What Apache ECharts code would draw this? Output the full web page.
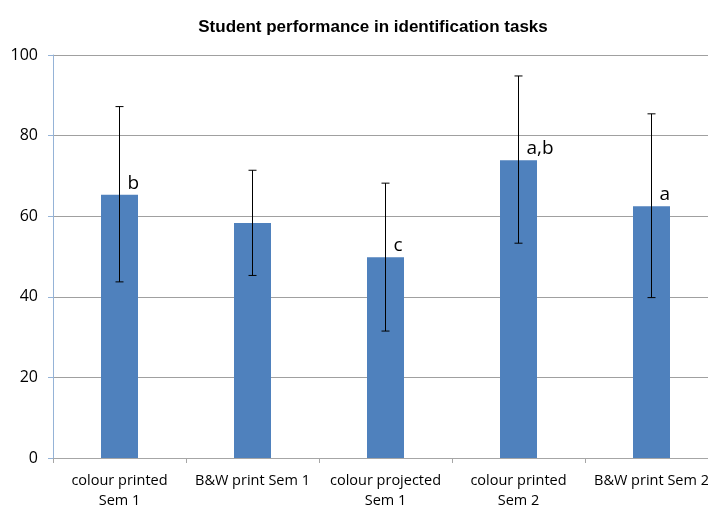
<!DOCTYPE html>
<html>
<head>
<meta charset="utf-8">
<script src="https://cdn.jsdelivr.net/npm/echarts@6/dist/echarts.min.js"></script>
<style>
  html, body { margin: 0; padding: 0; background: #fff; }
  #main { width: 708px; height: 507px; }
</style>
</head>
<body>
<div id="main"></div>
<script>
// data
var categories = ['colour printed\nSem 1', 'B&W print Sem 1', 'colour projected\nSem 1', 'colour printed\nSem 2', 'B&W print Sem 2'];
var means = [65.3, 58.3, 49.8, 73.9, 62.5];
var errLow = [43.7, 45.3, 31.5, 53.3, 39.8];
var errHigh = [87.2, 71.4, 68.2, 94.8, 85.4];
var letters = ['b', '', 'c', 'a,b', 'a'];
var yTicks = [0, 20, 40, 60, 80, 100];

var myChart = echarts.init(document.getElementById('main'));

var errData = means.map(function (m, i) { return [i, errLow[i], errHigh[i], m]; });

myChart.setOption({
    animation: false,
    title: {
        text: 'Student performance in identification tasks',
        left: 368,
        textAlign: 'center',
        top: 14,
        textStyle: { fontFamily: 'Liberation Sans', fontSize: 17, fontWeight: 'bold', color: '#000' }
    },
    grid: { left: 53, top: 55, width: 665, height: 403, outerBoundsMode: 'none', containLabel: false },
    xAxis: {
        type: 'category',
        data: categories,
        axisLine: { lineStyle: { color: '#a6a6a6' } },
        axisTick: { show: true, length: 5, lineStyle: { color: '#a6a6a6' } },
        axisLabel: { fontFamily: 'Open Sans', fontSize: 14.5, color: '#000', margin: 13, lineHeight: 20, interval: 0, hideOverlap: false }
    },
    yAxis: {
        type: 'value',
        min: yTicks[0],
        max: yTicks[yTicks.length - 1],
        interval: 20,
        axisLine: { show: true, lineStyle: { color: '#95b3d7' } },
        axisTick: { show: true, length: 5, lineStyle: { color: '#95b3d7' } },
        splitLine: { lineStyle: { color: '#a0a0a0', width: 1 } },
        axisLabel: { fontFamily: 'Open Sans', fontSize: 16, color: '#000', margin: 15 }
    },
    series: [{
        type: 'bar',
        data: means,
        barWidth: 37,
        itemStyle: { color: '#4f81bd' }
    }, {
        type: 'custom',
        data: errData,
        z: 10,
        renderItem: function (params, api) {
            var i = api.value(0);
            var lo = api.coord([i, api.value(1)]);
            var hi = api.coord([i, api.value(2)]);
            var top = api.coord([i, api.value(3)]);
            var cap = 4;
            var style = { stroke: '#000', lineWidth: 1 };
            return {
                type: 'group',
                children: [
                    { type: 'line', shape: { x1: hi[0], y1: hi[1], x2: lo[0], y2: lo[1] }, style: style },
                    { type: 'line', shape: { x1: hi[0] - cap, y1: hi[1], x2: hi[0] + cap, y2: hi[1] }, style: style },
                    { type: 'line', shape: { x1: lo[0] - cap, y1: lo[1], x2: lo[0] + cap, y2: lo[1] }, style: style },
                    { type: 'text', x: top[0] + 8, y: top[1] - 2,
                      style: { text: letters[i], fill: '#000', font: '19px "Open Sans"', verticalAlign: 'bottom' } }
                ]
            };
        }
    }]
});
</script>
</body>
</html>
